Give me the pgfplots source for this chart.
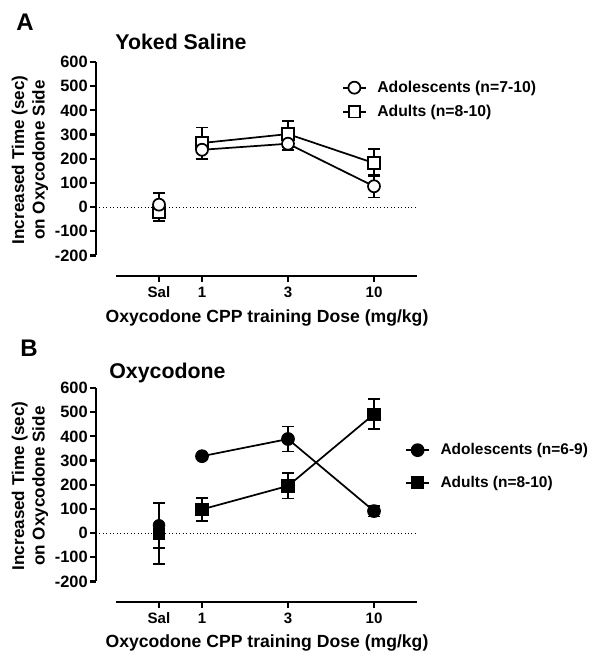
\documentclass[border=0pt]{standalone}
\usepackage{pgfplots}
\pgfplotsset{compat=1.18}
\usepackage{fontspec}
\setmainfont{Liberation Sans}
\begin{document}
\begin{tikzpicture}[font=\bfseries]
\useasboundingbox (-72pt,-292.5pt) rectangle (378.75pt,207pt);
\pgfplotsset{
  panel/.style={
    scale only axis, width=240.75pt, height=160.5pt,
    xmin=-1.2326, xmax=2.5, ymin=-285, ymax=600,
    axis lines*=left, axis line style={draw=none},
    xtick={-0.5,0,1,2}, xticklabels={Sal,1,3,10},
    ytick={-200,-100,...,600}, yticklabels={-200,-100,0,100,200,300,400,500,600},
    tick align=outside, tick style={black, line width=1.6pt}, major tick length=4.5pt,
    xticklabel style={font=\fontsize{11.3}{13}\selectfont\bfseries},
    yticklabel style={font=\fontsize{12.3}{14}\selectfont\bfseries, inner xsep=1.5pt},
    clip=false,
    legend cell align=left,
  },
  ebars/.style={
    error bars/y dir=both, error bars/y explicit,
    error bars/error bar style={line width=1.3pt, black},
    error bars/error mark options={rotate=90, mark size=4.5pt, line width=1.3pt, black},
  },
  adultA/.style={black, line width=1.3pt, mark=square*, mark size=4.3pt, mark options={solid, fill=white, line width=1.3pt}},
  adolA/.style={black, line width=1.3pt, mark=*, mark size=4.5pt, mark options={solid, fill=white, line width=1.3pt}},
}
% Panel A
\begin{axis}[panel, at={(0pt,0pt)}, anchor=south west,
  legend style={at={(0.766,0.925)}, anchor=north west, draw=none, fill=none,
    font=\fontsize{11.8}{14}\selectfont\bfseries, row sep=4pt, inner sep=0pt,
    /tikz/every odd column/.style={column sep=6pt}}]
\addplot[black, dotted, line width=0.6pt, forget plot] coordinates {(-1.2326,0) (2.5,0)};
\addplot[adultA, only marks, ebars, forget plot]
  table[x=x, y=y, y error plus=ep, y error minus=em] {
x y ep em
-0.5 -22 35 36
};
\addplot[adultA, ebars, forget plot]
  table[x=x, y=y, y error plus=ep, y error minus=em] {
x y ep em
0 265 64 64
1 302 55 55
2 182 57 55
};
\addplot[adolA, only marks, ebars, forget plot]
  table[x=x, y=y, y error plus=ep, y error minus=em] {
x y ep em
-0.5 10 48 48
};
\addplot[adolA, ebars]
  table[x=x, y=y, y error plus=ep, y error minus=em] {
x y ep em
0 237 35 37
1 262 25 25
2 86 46 46
};
\addlegendentry{Adolescents (n=7-10)}
\addlegendimage{adultA}
\addlegendentry{Adults (n=8-10)}
\draw[line width=2.2pt] (axis cs:-1.2326,-200) -- (axis cs:-1.2326,600);
\draw[line width=2.2pt] (axis cs:-1,-285) -- (axis cs:2.5,-285);
\end{axis}
% Panel B
\begin{axis}[panel, at={(0pt,-244.5pt)}, anchor=south west,
  legend style={at={(0.963,0.754)}, anchor=north west, draw=none, fill=none,
    font=\fontsize{11.6}{14}\selectfont\bfseries, row sep=10.5pt, inner sep=0pt,
    /tikz/every odd column/.style={column sep=6pt}}]
\addplot[black, dotted, line width=0.6pt, forget plot] coordinates {(-1.2326,0) (2.5,0)};
\addplot[black, only marks, mark=*, mark size=4.5pt, mark options={solid, fill=black}, ebars, forget plot]
  table[x=x, y=y, y error plus=ep, y error minus=em] {
x y ep em
-0.5 32 95 95
};
\addplot[black, only marks, mark=square*, mark size=4.3pt, mark options={solid, fill=black}, ebars, forget plot]
  table[x=x, y=y, y error plus=ep, y error minus=em] {
x y ep em
-0.5 -2 125 125
};
\addplot[black, line width=1.3pt, mark=*, mark size=4.5pt, mark options={solid, fill=black}, ebars]
  table[x=x, y=y, y error plus=ep, y error minus=em] {
x y ep em
0 318 8 8
1 389 52 52
2 91 22 22
};
\addlegendentry{Adolescents (n=6-9)}
\addplot[black, line width=1.3pt, mark=square*, mark size=4.3pt, mark options={solid, fill=black}, ebars]
  table[x=x, y=y, y error plus=ep, y error minus=em] {
x y ep em
0 98 47 47
1 195 52 52
2 492 62 62
};
\addlegendentry{Adults (n=8-10)}
\draw[line width=2.2pt] (axis cs:-1.2326,-200) -- (axis cs:-1.2326,600);
\draw[line width=2.2pt] (axis cs:-1,-285) -- (axis cs:2.5,-285);
\end{axis}
% labels
\node[font=\fontsize{18}{20}\selectfont\bfseries] at (-53.25pt,190.5pt) {A};
\node[font=\fontsize{18}{20}\selectfont\bfseries] at (-50.25pt,-54pt) {B};
\node[font=\fontsize{16}{18}\selectfont\bfseries, anchor=west] at (11pt,175.5pt) {Yoked Saline};
\node[font=\fontsize{16}{18}\selectfont\bfseries, anchor=west] at (6.5pt,-72.75pt) {Oxycodone};
\node[font=\fontsize{12.8}{15.5}\selectfont\bfseries, rotate=90, align=center] at (-49.5pt,87pt) {Increased Time (sec)\\on Oxycodone Side};
\node[font=\fontsize{12.8}{15.5}\selectfont\bfseries, rotate=90, align=center] at (-49.5pt,-157.5pt) {Increased Time (sec)\\on Oxycodone Side};
\node[font=\fontsize{13.2}{15}\selectfont\bfseries] at (128.25pt,-31.5pt) {Oxycodone CPP training Dose (mg/kg)};
\node[font=\fontsize{13.2}{15}\selectfont\bfseries] at (128.25pt,-275.5pt) {Oxycodone CPP training Dose (mg/kg)};
\end{tikzpicture}
\end{document}
